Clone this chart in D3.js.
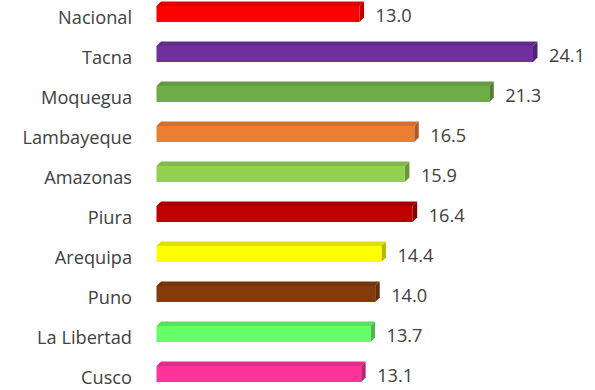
<!DOCTYPE html>
<html>
<head>
<meta charset="utf-8">
<script src="https://cdn.jsdelivr.net/npm/d3@7"></script>
<style>
  html, body { margin: 0; padding: 0; background: #fff; }
  svg { display: block; }
</style>
</head>
<body>
<svg id="chart" width="595" height="390"></svg>
<script>
// Regions and their values (%)
const regions = ["Nacional", "Tacna", "Moquegua", "Lambayeque", "Amazonas", "Piura", "Arequipa", "Puno", "La Libertad", "Cusco"];
const values = [13.0, 24.1, 21.3, 16.5, 15.9, 16.4, 14.4, 14.0, 13.7, 13.1];
const barColors = ["#FF0000", "#7030A0", "#70AD47", "#ED7D31", "#92D050", "#C00000", "#FFFF00", "#843C0C", "#66FF66", "#FF3399"];

const svg = d3.select("#chart");

const x = d3.scaleLinear().domain([0, 24.1]).range([156.5, 533]);
const y = d3.scaleBand().domain(regions).range([-6, 394]).paddingInner(0.6).paddingOuter(0.3);

const depth = 4.5; // extrusion offset for the 3D look
const font = "'Open Sans', sans-serif";
const fontSize = 18.2;

const data = regions.map((r, i) => ({ name: r, value: values[i], color: barColors[i] }));

const g = svg.append("g");

const bars = g.selectAll("g.bar").data(data).join("g").attr("class", "bar");

// top face
bars.append("path")
  .attr("d", d => {
    const x0 = x(0), x1 = x(d.value), y0 = y(d.name);
    return `M${x0},${y0} L${x0 + depth},${y0 - depth} L${x1 + depth},${y0 - depth} L${x1},${y0} Z`;
  })
  .attr("fill", d => d3.color(d.color).darker(0.35));

// side face
bars.append("path")
  .attr("d", d => {
    const x1 = x(d.value), y0 = y(d.name), y1 = y0 + y.bandwidth();
    return `M${x1},${y0} L${x1 + depth},${y0 - depth} L${x1 + depth},${y1 - depth} L${x1},${y1} Z`;
  })
  .attr("fill", d => d3.color(d.color).darker(0.9));

// front face
bars.append("rect")
  .attr("x", x(0))
  .attr("y", d => y(d.name))
  .attr("width", d => x(d.value) - x(0))
  .attr("height", y.bandwidth())
  .attr("fill", d => d.color);

// category labels
g.selectAll("text.cat").data(data).join("text")
  .attr("class", "cat")
  .attr("x", 132)
  .attr("y", d => y(d.name) + y.bandwidth() / 2 + 10)
  .attr("text-anchor", "end")
  .attr("font-family", font)
  .attr("font-size", fontSize)
  .attr("fill", "#404040")
  .text(d => d.name);

// value labels
g.selectAll("text.val").data(data).join("text")
  .attr("class", "val")
  .attr("x", d => x(d.value) + 16)
  .attr("y", d => y(d.name) + y.bandwidth() / 2 + 7.5)
  .attr("font-family", font)
  .attr("font-size", fontSize)
  .attr("fill", "#404040")
  .text(d => d3.format(".1f")(d.value));
</script>
</body>
</html>
